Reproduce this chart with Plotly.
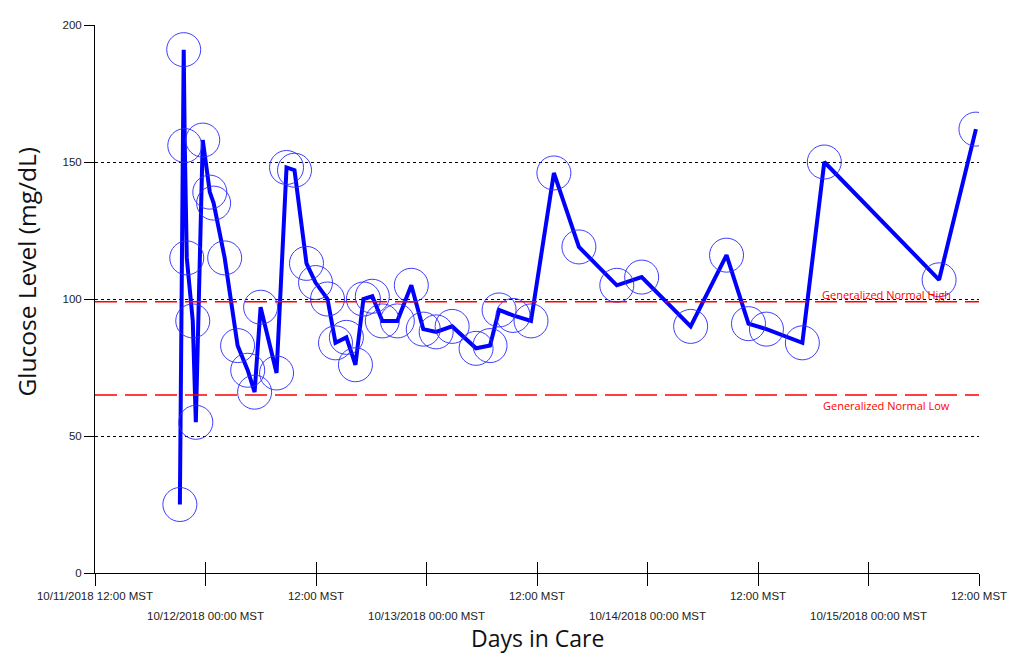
import plotly.graph_objects as go

# ---- data ----
times = [
    "2018-10-11 21:13", "2018-10-11 21:38", "2018-10-11 21:45", "2018-10-11 21:58",
    "2018-10-11 22:37", "2018-10-11 22:57", "2018-10-11 23:42", "2018-10-12 00:28",
    "2018-10-12 00:53", "2018-10-12 02:05", "2018-10-12 03:29", "2018-10-12 04:35",
    "2018-10-12 05:20", "2018-10-12 05:59", "2018-10-12 07:43", "2018-10-12 08:48",
    "2018-10-12 09:40", "2018-10-12 10:58", "2018-10-12 11:57", "2018-10-12 13:15",
    "2018-10-12 14:07", "2018-10-12 15:18", "2018-10-12 16:17", "2018-10-12 17:09",
    "2018-10-12 18:07", "2018-10-12 19:12", "2018-10-12 20:50", "2018-10-12 22:21",
    "2018-10-12 23:39", "2018-10-13 01:03", "2018-10-13 02:47", "2018-10-13 05:23",
    "2018-10-13 06:54", "2018-10-13 07:53", "2018-10-13 09:24", "2018-10-13 11:21",
    "2018-10-13 13:50", "2018-10-13 16:33", "2018-10-13 20:40", "2018-10-13 23:22",
    "2018-10-14 04:41", "2018-10-14 08:35", "2018-10-14 10:58", "2018-10-14 12:55",
    "2018-10-14 16:49", "2018-10-14 19:12", "2018-10-15 07:40", "2018-10-15 11:40",
]
glucose = [
    25, 191, 156, 115,
    92, 55, 158, 139,
    135, 115, 83, 74,
    66, 97, 73, 148,
    147, 113, 106, 100,
    84, 86, 76, 100,
    101, 92, 92, 105,
    89, 88, 90, 82,
    83, 96, 94, 92,
    146, 119, 105, 108,
    90, 116, 91, 89,
    84, 150, 107, 162,
]

normal_high = 99
normal_low = 65

x_range = ["2018-10-11 12:00", "2018-10-15 12:00"]
tick_vals = [
    "2018-10-11 12:00", "2018-10-12 00:00", "2018-10-12 12:00", "2018-10-13 00:00",
    "2018-10-13 12:00", "2018-10-14 00:00", "2018-10-14 12:00", "2018-10-15 00:00",
    "2018-10-15 12:00",
]
tick_text_row1 = [
    "10/11/2018 12:00 MST", "", "12:00 MST", "", "12:00 MST", "", "12:00 MST", "", "12:00 MST",
]
tick_text_row2 = [
    "", "10/12/2018 00:00 MST", "", "10/13/2018 00:00 MST", "", "10/14/2018 00:00 MST",
    "", "10/15/2018 00:00 MST", "",
]
y_ticks = [0, 50, 100, 150, 200]

x_tick_font = dict(family="Liberation Sans, Arial, sans-serif", size=11.5, color="#222")
y_tick_font = dict(family="Liberation Sans, Arial, sans-serif", size=11.5, color="#222")
title_font_family = "Open Sans, sans-serif"

fig = go.Figure()

fig.add_trace(go.Scatter(
    x=times, y=glucose, mode="lines+markers",
    line=dict(color="#0000ff", width=4),
    marker=dict(symbol="circle-open", size=34, color="rgba(40,40,255,0.9)",
                line=dict(width=1, color="rgba(40,40,255,0.9)")),
    showlegend=False, hoverinfo="x+y",
))

# invisible trace to activate xaxis2 (second row of tick labels)
fig.add_trace(go.Scatter(x=x_range, y=[None, None], xaxis="x2", yaxis="y",
                         mode="lines", showlegend=False, hoverinfo="skip"))

fig.add_hline(y=normal_high, line=dict(color="red", width=1.5, dash="22px,8px"))
fig.add_hline(y=normal_low, line=dict(color="red", width=1.5, dash="22px,8px"))

fig.add_annotation(x=0.971, y=normal_high, xref="paper", yref="y",
                   text="Generalized Normal High", showarrow=False,
                   xanchor="right", yanchor="bottom", yshift=-2,
                   font=dict(family=title_font_family, size=11, color="red"))
fig.add_annotation(x=0.970, y=normal_low, xref="paper", yref="y",
                   text="Generalized Normal Low", showarrow=False,
                   xanchor="right", yanchor="top", yshift=-1,
                   font=dict(family=title_font_family, size=11, color="red"))

fig.add_annotation(x=0.5, y=-0.119, xref="paper", yref="paper", text="Days in Care",
                   showarrow=False, yanchor="middle",
                   font=dict(family=title_font_family, size=23, color="#111"))
fig.add_annotation(x=-0.077, y=0.55, xref="paper", yref="paper",
                   text="Glucose Level (mg/dL)", textangle=-90, showarrow=False,
                   xanchor="center", yanchor="middle",
                   font=dict(family=title_font_family, size=24.5, color="#111"))

fig.update_layout(
    width=1010, height=645,
    margin=dict(l=87, r=37, t=11, b=80),
    plot_bgcolor="white", paper_bgcolor="white",
    xaxis=dict(
        type="date", range=x_range, tickmode="array", tickvals=tick_vals,
        ticktext=tick_text_row1, ticks="outside", ticklen=12, tickcolor="black",
        tickwidth=1, showline=True, linecolor="black", linewidth=1,
        showgrid=False, zeroline=False, tickfont=x_tick_font,
    ),
    xaxis2=dict(
        type="date", range=x_range, overlaying="x", anchor="y", side="bottom",
        tickmode="array", tickvals=tick_vals, ticktext=tick_text_row2,
        ticks="inside", ticklen=11, tickcolor="black", tickwidth=1,
        showline=False, showgrid=False, zeroline=False, tickfont=x_tick_font,
        ticklabelstandoff=34,
    ),
    yaxis=dict(
        range=[0, 200], tickmode="array", tickvals=y_ticks, ticks="outside",
        ticklen=10, tickcolor="black", showline=True, linecolor="black",
        linewidth=1, showgrid=True, gridcolor="black", griddash="dot",
        gridwidth=1, zeroline=False, tickfont=y_tick_font,
    ),
)

fig.write_html("out.html")
